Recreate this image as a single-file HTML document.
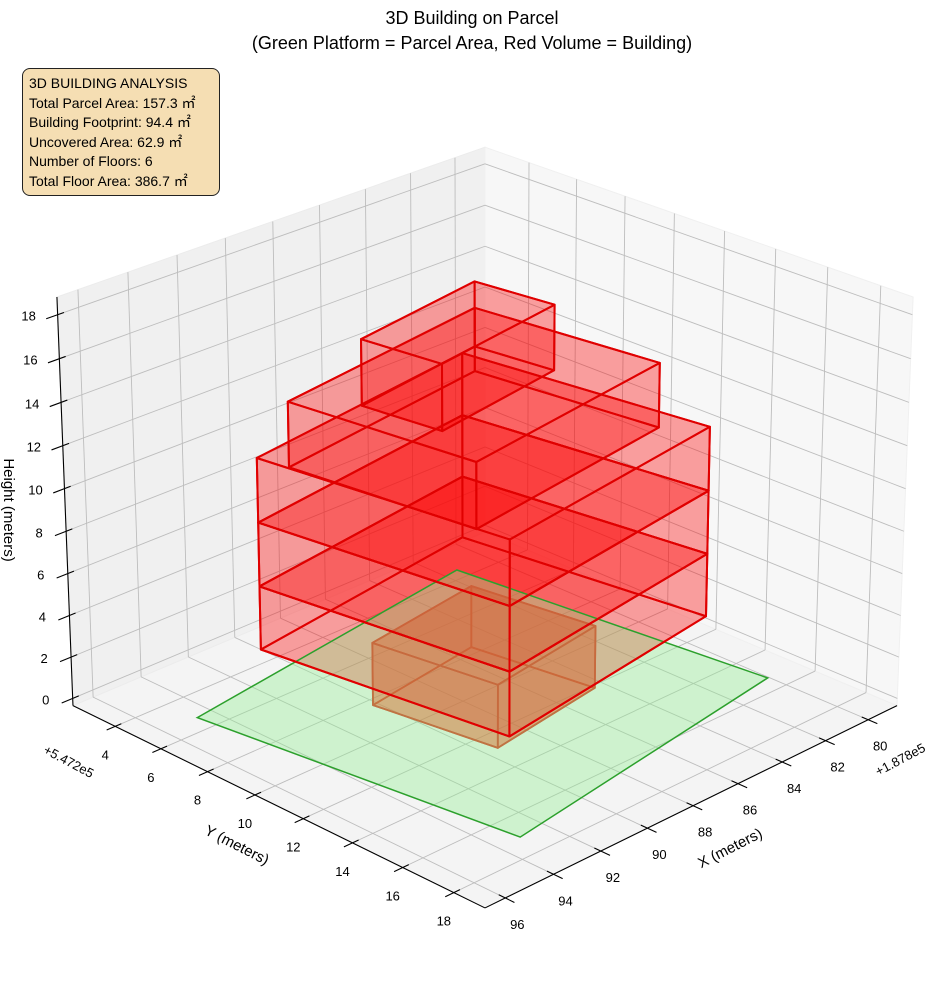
<!DOCTYPE html>
<html><head><meta charset="utf-8"><style>
html,body{margin:0;padding:0;background:#fff;width:944px;height:992px;overflow:hidden}
svg{display:block}
text{font-family:"Liberation Sans","Noto Sans CJK JP",sans-serif;fill:#000}
#info{position:absolute;left:22px;top:68px;width:198px;height:128px;background:#f5deb3;border:1px solid #222;border-radius:8px;box-sizing:border-box;padding:5px 0 0 6px;font:14px/19.6px "Liberation Sans","Noto Sans CJK JP",sans-serif;color:#000;white-space:nowrap}
</style></head><body>
<svg id="chart" width="944" height="992" viewBox="0 0 944 992" xmlns="http://www.w3.org/2000/svg">
<text x="472" y="24" text-anchor="middle" font-size="18">3D Building on Parcel</text>
<text x="472" y="49" text-anchor="middle" font-size="18">(Green Platform = Parcel Area, Red Volume = Building)</text>
<g id="panes"></g>
<g id="grid"></g>
<g id="axes"></g>
<g id="marks"></g>
<text x="730" y="853" text-anchor="middle" font-size="15" transform="rotate(-27 730 848)">X (meters)</text>
<text x="237" y="850" text-anchor="middle" font-size="15" transform="rotate(27 237 845)">Y (meters)</text>
<text x="4" y="510" text-anchor="middle" font-size="15" transform="rotate(90 4 510)">Height (meters)</text>
<text x="900" y="764" text-anchor="middle" font-size="13" transform="rotate(-28 900 759)">+1.878e5</text>
<text x="69" y="766" text-anchor="middle" font-size="13" transform="rotate(28 69 761)">+5.472e5</text>
</svg>
<div id="info">3D BUILDING ANALYSIS<br>Total Parcel Area: 157.3 ㎡<br>Building Footprint: 94.4 ㎡<br>Uncovered Area: 62.9 ㎡<br>Number of Floors: 6<br>Total Floor Area: 386.7 ㎡</div>
<script>
const xTicks=[80,82,84,86,88,90,92,94,96];
const yTicks=[4,6,8,10,12,14,16,18];
const zTicks=[0,2,4,6,8,10,12,14,16,18];
const XL=[78.63,96.83];
const YL=[2.12,19.2];
const ZL=[-0.35,18.8];
const parcelX=[94.96,81.77,80.43,93.4];
const parcelY=[5.62,3.84,15.62,17.36];
const floorZ0=[0,3,6,9,12,15];
const floorZ1=[3,6,9,12,15,18];
const floorFootX=[[90.52,89.82,84.78,85.48],[93.27,92.0,81.83,83.1],[93.27,92.0,81.83,83.1],[93.27,92.0,81.83,83.1],[93.05,92.18,82.98,83.85],[91.69,91.31,85.68,86.06]];
const floorFootY=[[8.65,13.14,12.46,7.97],[6.68,15.63,14.30,5.35],[6.68,15.63,14.30,5.35],[6.68,15.63,14.30,5.35],[7.80,14.50,13.29,6.59],[9.48,12.34,11.53,8.67]];

const NS="http://www.w3.org/2000/svg";
function P(x,y,z){
  const X=-1+2*(x-XL[0])/(XL[1]-XL[0]);
  const Y=-1+2*(y-YL[0])/(YL[1]-YL[0]);
  const Z=0.7565*(-1+2*(z-ZL[0])/(ZL[1]-ZL[0]));
  const r=(Y-X)*0.70711, u=-0.2944*(X+Y)+0.9092*Z, d=16.5-0.6429*(X+Y)-0.4163*Z;
  return [485+4899*r/d,505.2-4899*u/d,d];
}
function mk(tag,parent,attrs){const e=document.createElementNS(NS,tag);for(const k in attrs)e.setAttribute(k,attrs[k]);parent.appendChild(e);return e;}
function pts(a){return a.map(p=>p[0].toFixed(1)+","+p[1].toFixed(1)).join(" ");}

const panes=document.getElementById('panes'),grid=document.getElementById('grid'),axes=document.getElementById('axes'),marks=document.getElementById('marks');
let e;
e=mk('polygon',panes,{points:pts([P(XL[0],YL[0],ZL[0]),P(XL[1],YL[0],ZL[0]),P(XL[1],YL[1],ZL[0]),P(XL[0],YL[1],ZL[0])]),fill:'#f4f4f4',stroke:'#f0f0f0'});


e=mk('polygon',panes,{points:pts([P(XL[0],YL[0],ZL[0]),P(XL[1],YL[0],ZL[0]),P(XL[1],YL[0],ZL[1]),P(XL[0],YL[0],ZL[1])]),fill:'#f0f0f0',stroke:'#ececec'});


e=mk('polygon',panes,{points:pts([P(XL[0],YL[0],ZL[0]),P(XL[0],YL[1],ZL[0]),P(XL[0],YL[1],ZL[1]),P(XL[0],YL[0],ZL[1])]),fill:'#f7f7f7',stroke:'#f0f0f0'});


function gl(a,b,name){const l=mk('line',grid,{x1:a[0],y1:a[1],x2:b[0],y2:b[1],stroke:'#bdbdbd','stroke-width':0.9});}
xTicks.forEach(t=>{gl(P(t,YL[0],ZL[0]),P(t,YL[1],ZL[0]),'grid-floor-x');gl(P(t,YL[0],ZL[0]),P(t,YL[0],ZL[1]),'grid-wall-x');});
yTicks.forEach(t=>{gl(P(XL[0],t,ZL[0]),P(XL[1],t,ZL[0]),'grid-floor-y');gl(P(XL[0],t,ZL[0]),P(XL[0],t,ZL[1]),'grid-wall-y');});
zTicks.forEach(t=>{gl(P(XL[0],YL[0],t),P(XL[1],YL[0],t),'grid-wall-z');gl(P(XL[0],YL[0],t),P(XL[0],YL[1],t),'grid-wall-z');});
function al(a,b,name){const l=mk('line',axes,{x1:a[0],y1:a[1],x2:b[0],y2:b[1],stroke:'#000','stroke-width':1.1});}
al(P(XL[1],YL[0],ZL[0]),P(XL[1],YL[0],ZL[1]),'z-axis-line');
al(P(XL[1],YL[0],ZL[0]),P(XL[1],YL[1],ZL[0]),'y-axis-line');
al(P(XL[0],YL[1],ZL[0]),P(XL[1],YL[1],ZL[0]),'x-axis-line');
function lab(p,dx,dy,s,name){const t=mk('text',axes,{x:(p[0]+dx).toFixed(1),y:(p[1]+dy+5).toFixed(1),'text-anchor':'middle','font-size':13});t.textContent=s;}
xTicks.forEach(t=>{al(P(t,YL[1]-0.25,ZL[0]),P(t,YL[1]+0.35,ZL[0]),'x-tick');lab(P(t,YL[1],ZL[0]),12,26,String(t),'x-tick-label');});
yTicks.forEach(t=>{al(P(XL[1]-0.25,t,ZL[0]),P(XL[1]+0.35,t,ZL[0]),'y-tick');lab(P(XL[1],t,ZL[0]),-10,28,String(t),'y-tick-label');});
zTicks.forEach(t=>{al(P(XL[1]-0.25,YL[0],t),P(XL[1]+0.45,YL[0],t),'z-tick');const p=P(XL[1],YL[0],t);lab(p,-27-(t>=10?2:0),1,String(t),'z-tick-label');});

function boxFaces(i){
  const fx=floorFootX[i],fy=floorFootY[i],z0=floorZ0[i],z1=floorZ1[i];
  const b=fx.map((x,k)=>P(x,fy[k],z0)),t=fx.map((x,k)=>P(x,fy[k],z1));
  const f=[b,t];
  for(let k=0;k<4;k++){const n=(k+1)%4;f.push([b[k],b[n],t[n],t[k]]);}
  return f;
}
function sortFaces(faces){faces.sort((a,b)=>b.reduce((s,p)=>s+p[2],0)/b.length-a.reduce((s,p)=>s+p[2],0)/a.length);return faces;}
function drawFaces(faces,fill,stroke,sw,name){
  faces.forEach(f=>{const pg=mk('polygon',marks,{points:pts(f),fill:fill,stroke:stroke,'stroke-width':sw,'stroke-linejoin':'round'});});
}
drawFaces(sortFaces(boxFaces(0)),'rgba(255,40,0,0.3)','rgb(220,40,20)',1.8,'ground-floor-face');
let upper=[];
for(let i=1;i<floorZ0.length;i++)upper=upper.concat(boxFaces(i));
sortFaces(upper);
drawFaces(upper,'rgba(255,0,0,0.2)','none',0,'building-floor-face');
const pp=parcelX.map((x,k)=>P(x,parcelY[k],0));
const parcel=mk('polygon',marks,{points:pts(pp),fill:'rgba(144,238,144,0.38)',stroke:'#2ca02c','stroke-width':1.5});


drawFaces(upper,'none','#e00000',2,'building-floor-edge');
</script>
</body></html>
